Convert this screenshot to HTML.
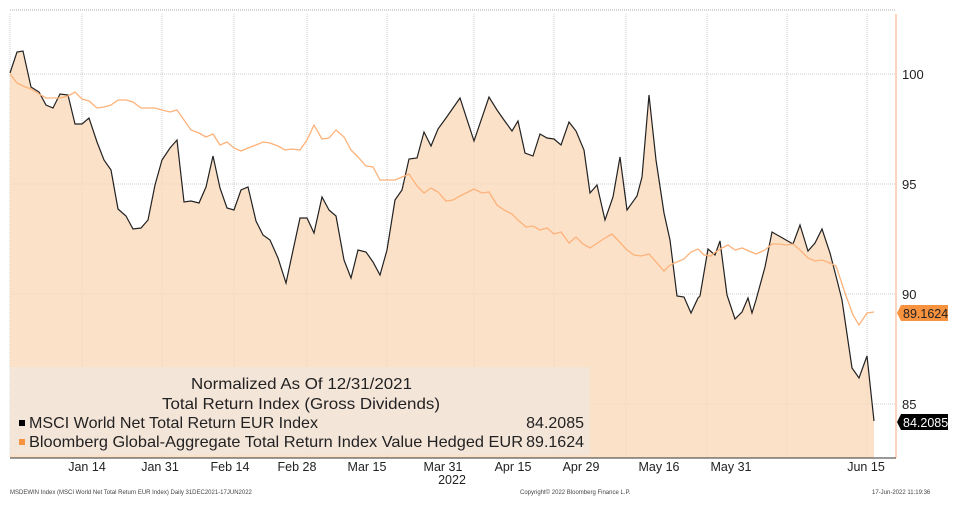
<!DOCTYPE html>
<html><head><meta charset="utf-8"><style>
body{margin:0;background:#fff;width:978px;height:510px;overflow:hidden;font-family:"Liberation Sans",sans-serif}
</style></head><body>
<svg width="978" height="510" xmlns="http://www.w3.org/2000/svg" font-family="Liberation Sans, sans-serif">
<line x1="10" y1="10" x2="896" y2="10" stroke="#aaa" stroke-dasharray="1,1"/>
<g stroke="#ccc" stroke-dasharray="1,1">
<line x1="10" y1="74" x2="896" y2="74"/><line x1="10" y1="184" x2="896" y2="184"/><line x1="10" y1="294" x2="896" y2="294"/><line x1="10" y1="404" x2="896" y2="404"/>
<line x1="10" y1="14" x2="10" y2="458"/><line x1="82" y1="14" x2="82" y2="458"/><line x1="162" y1="14" x2="162" y2="458"/><line x1="234" y1="14" x2="234" y2="458"/><line x1="307" y1="14" x2="307" y2="458"/><line x1="387" y1="14" x2="387" y2="458"/><line x1="474" y1="14" x2="474" y2="458"/><line x1="554" y1="14" x2="554" y2="458"/><line x1="626" y1="14" x2="626" y2="458"/><line x1="707" y1="14" x2="707" y2="458"/><line x1="787" y1="14" x2="787" y2="458"/><line x1="867" y1="14" x2="867" y2="458"/>
</g>
<polygon fill="#fbd9bb" fill-opacity="0.8" points="10,458 10,73 17,52 23,51 31,87 39,92 46,105 53,108 60,94 68,95 75,124 82,124 89,118 97,142 104,160 111,170 118,209 126,216 133,229 141,228 148,220 155,185 162,160 170,148 177,140 184,202 191,201 199,203 206,187 213,156 220,188 227,208 234,210 241,190 248,187 256,221 263,235 270,240 278,258 286,283 292,255 300,218 307,218 314,233 322,197 329,210 336,216 344,260 351,278 358,250 366,252 373,262 380,275 387,250 395,200 402,190 409,159 417,158 424,132 431,146 438,129 446,118 453,108 460,98 474,141 489,97 497,110 504,120 512,131 518,121 525,153 533,156 540,134 547,138 554,139 561,145 569,122 576,131 584,150 590,193 597,185 605,220 613,197 620,157 627,210 637,196 642,177 649,95 656,160 664,213 670,240 677,296 684,297 691,313 698,298 700,296 708,249 715,255 720,241 727,295 735,319 742,312 748,298 752,313 756,300 765,267 772,232 779,236 786,240 793,244 800,225 808,251 815,243 822,229 830,253 837,280 842,300 852,368 859,378 867,356 874,421 874,458"/>
<polyline fill="none" stroke="#222" stroke-width="1.2" points="10,73 17,52 23,51 31,87 39,92 46,105 53,108 60,94 68,95 75,124 82,124 89,118 97,142 104,160 111,170 118,209 126,216 133,229 141,228 148,220 155,185 162,160 170,148 177,140 184,202 191,201 199,203 206,187 213,156 220,188 227,208 234,210 241,190 248,187 256,221 263,235 270,240 278,258 286,283 292,255 300,218 307,218 314,233 322,197 329,210 336,216 344,260 351,278 358,250 366,252 373,262 380,275 387,250 395,200 402,190 409,159 417,158 424,132 431,146 438,129 446,118 453,108 460,98 474,141 489,97 497,110 504,120 512,131 518,121 525,153 533,156 540,134 547,138 554,139 561,145 569,122 576,131 584,150 590,193 597,185 605,220 613,197 620,157 627,210 637,196 642,177 649,95 656,160 664,213 670,240 677,296 684,297 691,313 698,298 700,296 708,249 715,255 720,241 727,295 735,319 742,312 748,298 752,313 756,300 765,267 772,232 779,236 786,240 793,244 800,225 808,251 815,243 822,229 830,253 837,280 842,300 852,368 859,378 867,356 874,421"/>
<polyline fill="none" stroke="#fdb27a" stroke-width="1.3" points="10,74 17,83 23,86 31,89 39,94 46,98 53,98 60,98 68,96 75,92 82,99 89,101 97,108 104,107 111,105 118,100 126,100 133,102 141,108 148,108 155,108 162,110 170,112 177,110 184,120 191,130 199,133 206,137 213,134 220,145 227,142 234,148 241,151 248,148 256,145 263,142 270,143 278,146 285,150 292,149 300,150 307,140 314,125 322,139 329,138 336,130 344,137 351,150 358,157 366,166 373,167 380,180 387,180 395,180 402,177 409,174 417,186 424,193 431,188 438,192 446,201 453,200 460,196 474,189 482,193 489,192 497,205 504,210 512,214 518,220 526,227 533,226 540,230 547,228 554,234 561,232 569,243 576,237 583,244 590,248 605,238 612,234 627,250 634,255 641,256 649,254 656,262 664,271 670,265 684,259 691,252 698,249 704,255 711,256 714,253 722,248 728,245 735,250 742,248 756,254 765,250 772,244 779,244 786,245 793,244 800,250 808,258 815,261 822,260 830,263 836,266 845,293 853,315 859,325 867,313 874,312"/>
<rect x="10" y="367" width="580" height="88" fill="#f3e6da" fill-opacity="0.9"/>
<g font-size="16" fill="#222">
<text x="191" y="389" textLength="221" lengthAdjust="spacingAndGlyphs">Normalized As Of 12/31/2021</text>
<text x="162" y="409" textLength="278" lengthAdjust="spacingAndGlyphs">Total Return Index (Gross Dividends)</text>
<rect x="19" y="420" width="6" height="6" fill="#000"/>
<text x="29" y="428" textLength="289" lengthAdjust="spacingAndGlyphs">MSCI World Net Total Return EUR Index</text>
<text x="584" y="428" text-anchor="end">84.2085</text>
<rect x="19" y="439" width="6" height="6" fill="#f7923f"/>
<text x="29" y="447" textLength="494" lengthAdjust="spacingAndGlyphs">Bloomberg Global-Aggregate Total Return Index Value Hedged EUR</text>
<text x="584" y="447" text-anchor="end">89.1624</text>
</g>
<line x1="896" y1="14" x2="896" y2="458" stroke="#fbc7a5" stroke-width="1.5"/>
<line x1="10" y1="458" x2="896" y2="458" stroke="#333"/>
<g font-size="13" fill="#222">
<text x="902" y="79">100</text><text x="902" y="189">95</text><text x="902" y="299">90</text><text x="902" y="409">85</text>
</g>
<polygon points="897,313 901,305 948,305 948,321 901,321" fill="#f7923f"/>
<text x="903" y="318" font-size="12.5" fill="#222">89.1624</text>
<polygon points="897,422 901,414 948,414 948,430 901,430" fill="#000"/>
<text x="903" y="427" font-size="12.5" fill="#fff">84.2085</text>
<g font-size="12.5" fill="#222" text-anchor="middle">
<text x="87" y="471">Jan 14</text><text x="160" y="471">Jan 31</text><text x="230" y="471">Feb 14</text><text x="297" y="471">Feb 28</text><text x="367" y="471">Mar 15</text><text x="443" y="471">Mar 31</text><text x="513" y="471">Apr 15</text><text x="581" y="471">Apr 29</text><text x="659" y="471">May 16</text><text x="731" y="471">May 31</text><text x="866" y="471">Jun 15</text>
<text x="452" y="484">2022</text>
</g>
<g font-size="6" fill="#444">
<text x="10" y="494">MSDEWIN Index (MSCI World Net Total Return EUR Index)  Daily 31DEC2021-17JUN2022</text>
<text x="520" y="494">Copyright© 2022 Bloomberg Finance L.P.</text>
<text x="872" y="494">17-Jun-2022 11:19:36</text>
</g>
</svg>
</body></html>
